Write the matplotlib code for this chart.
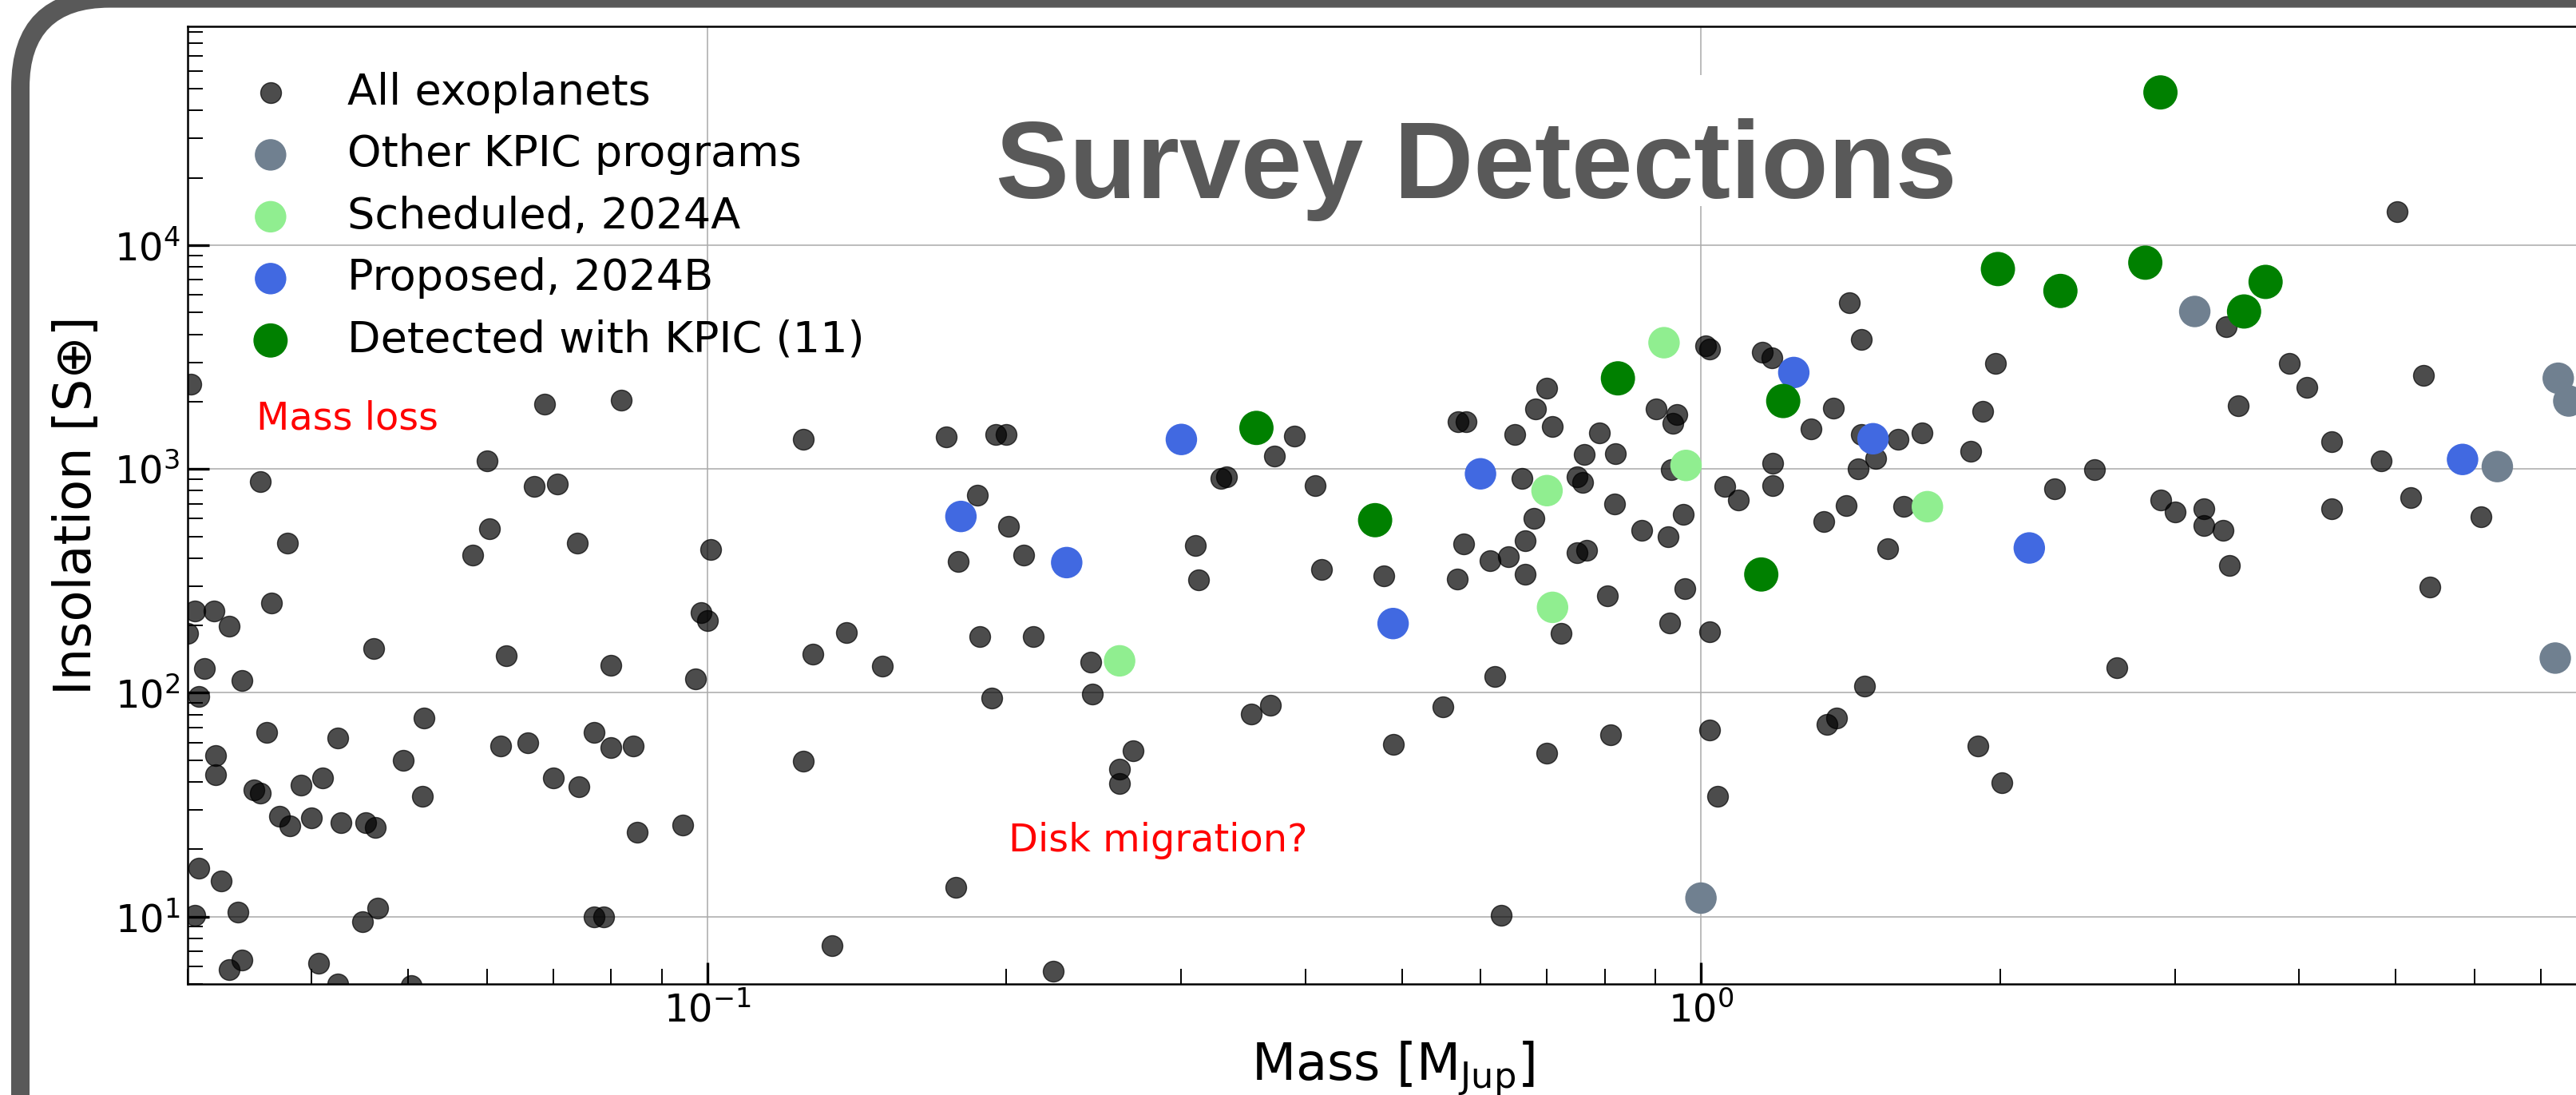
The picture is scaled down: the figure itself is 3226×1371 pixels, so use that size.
import matplotlib
matplotlib.use("Agg")
import matplotlib.pyplot as plt
from matplotlib.patches import FancyBboxPatch, Rectangle

# ── data (mass in M_Jup, insolation in S_earth) ──────────────
all_mass = [
    0.0302, 0.0686, 0.0819, 0.0600, 0.0355, 0.0670, 0.0706, 0.0378, 0.0604, 0.0581,
    0.0740, 0.0305, 0.0319, 0.0330, 0.0364, 0.0300, 0.0462, 0.0628, 0.0800, 0.0312,
    0.0340, 0.0308, 0.0519, 0.0360, 0.0425, 0.0620, 0.0660, 0.0770, 0.0800, 0.0843,
    0.0320, 0.0320, 0.0494, 0.0350, 0.0355, 0.0390, 0.0410, 0.0517, 0.0700, 0.0743,
    0.0371, 0.0380, 0.0400, 0.0428, 0.0453, 0.0463, 0.0850, 0.0944, 0.0308, 0.0324,
    0.0305, 0.0337, 0.0450, 0.0466, 0.0770, 0.0787, 0.0340, 0.0330, 0.0406, 0.0425,
    0.0504, 0.1336, 0.1008, 0.0986, 0.1000, 0.1277, 0.1380, 0.1500, 0.0973, 0.1250,
    0.1250, 0.1740, 0.1950, 0.2000, 0.1870, 0.2010, 0.1790, 0.2080, 0.1880, 0.2130,
    0.2430, 0.1935, 0.2440, 0.2685, 0.2600, 0.2600, 0.1780, 0.2230, 0.3720, 0.3900,
    0.3290, 0.3330, 0.4090, 0.3100, 0.3120, 0.4150, 0.4800, 0.5770, 0.5690, 0.5700,
    0.5800, 0.6130, 0.6400, 0.6660, 0.6660, 0.6500, 0.6610, 0.6790, 0.6810, 0.7000,
    0.7080, 0.7230, 0.6200, 0.3530, 0.3690, 0.5500, 0.4900, 0.7000, 0.8110, 0.6300,
    0.7510, 0.7600, 0.7630, 0.7910, 0.8200, 0.8190, 0.8710, 0.7500, 0.7680, 0.8050,
    0.9020, 0.9260, 0.9300, 1.41, 1.45, 1.98, 1.92, 1.87, 1.01, 1.02,
    1.153, 1.179, 1.36, 1.29, 1.45, 1.58, 1.67, 1.44, 1.50, 1.18,
    1.18, 0.934, 1.057, 1.09, 1.40, 1.33, 1.60, 1.54, 0.96, 0.963,
    1.02, 1.46, 1.34, 1.37, 1.02, 1.90, 0.946, 0.937, 1.04, 2.01,
    5.02, 3.38, 3.91, 4.07, 3.47, 5.33, 4.31, 4.84, 2.49, 2.27,
    2.90, 3.00, 3.21, 3.21, 3.35, 3.40, 4.31, 5.18, 6.10, 5.41,
    2.62,
]
all_insol = [
    2400, 1950, 2030, 1090, 877, 838, 855, 466, 540, 411,
    466, 233, 233, 198, 253, 185, 158, 146, 133, 128,
    114, 96, 77.4, 66.8, 62.6, 57.7, 59.6, 66.8, 56.9, 57.7,
    52.6, 43.0, 50.0, 36.7, 35.5, 38.6, 41.8, 34.4, 41.8, 38.2,
    28.1, 25.4, 27.7, 26.4, 26.4, 25.1, 23.9, 25.6, 16.5, 14.4,
    10.1, 10.5, 9.5, 10.9, 10.0, 10.0, 6.4, 5.8, 6.2, 5.0,
    4.9, 7.4, 438, 228, 210, 149, 186, 132, 115, 49.7,
    1356, 1390, 1430, 1430, 766, 555, 386, 413, 179, 179,
    137, 94.6, 98.6, 55.3, 45.6, 39.2, 13.5, 5.7, 1143, 1407,
    906, 920, 841, 456, 321, 356, 332, 463, 322, 1625,
    1625, 388, 407, 478, 338, 1428, 906, 601, 1853, 2296,
    1545, 184, 118, 80.2, 87.7, 86.7, 58.7, 53.7, 65.2, 10.1,
    925, 873, 1161, 1449, 1175, 698, 531, 422, 433, 272,
    1853, 498, 205, 5545, 3800, 2976, 1813, 1199, 3550, 3450,
    3334, 3135, 1877, 1515, 1425, 1360, 1449, 1005, 1114, 1064,
    841, 991, 839, 729, 689, 581, 679, 440, 626, 293,
    188, 107, 72.2, 77.4, 68.2, 57.8, 1750, 1600, 34.6, 39.6,
    14100, 4330, 2960, 2315, 1919, 2630, 1328, 1089, 991, 814,
    729, 641, 662, 557, 531, 371, 662, 746, 612, 297,
    129,
]

other_mass = [1.00, 3.14, 6.33, 7.29, 7.47, 7.24]
other_insol = [12.1, 5060, 1026, 2546, 2014, 143]

sched_mass = [0.260, 0.700, 0.709, 0.918, 0.966, 1.69]
sched_insol = [139, 801, 241, 3670, 1038, 679]

prop_mass = [0.180, 0.230, 0.300, 0.490, 0.600, 1.24, 1.49, 2.14, 5.84]
prop_insol = [614, 382, 1356, 204, 952, 2700, 1366, 444, 1104]

det_mass = [0.357, 0.470, 0.825, 1.21, 1.15, 1.99, 2.30, 2.80, 2.90, 3.70, 3.52]
det_insol = [1527, 591, 2543, 2014, 338, 7830, 6250, 8360, 48200, 6860, 5060]

W, H, DPI = 3226, 1371, 100
FRAME_GREY = "#595959"

fig = plt.figure(figsize=(W / DPI, H / DPI), dpi=DPI, facecolor="white")

# ── slide frame behind everything (pixel coords) ─────────────
bg = fig.add_axes([0, 0, 1, 1], zorder=-1)
bg.set_xlim(0, W)
bg.set_ylim(H, 0)
bg.axis("off")
bg.add_patch(FancyBboxPatch((14, -13.4), 3600, 1800,
                            boxstyle="round,pad=0,rounding_size=123",
                            fc=FRAME_GREY, ec="none"))
bg.add_patch(FancyBboxPatch((37, 9.6), 3600, 1800,
                            boxstyle="round,pad=0,rounding_size=100",
                            fc="white", ec="none"))

# ── main axes (right edge runs past the cropped image) ───────
left_px, right_px, top_px, bottom_px = 235, 3254, 32.5, 1232
ax = fig.add_axes([left_px / W, 1 - bottom_px / H,
                   (right_px - left_px) / W, (bottom_px - top_px) / H])
ax.set_xscale("log")
ax.set_yscale("log")

ax.scatter(all_mass, all_insol, s=350, c="k", alpha=0.7, label="All exoplanets", zorder=3)
ax.scatter(other_mass, other_insol, s=806, c="slategray", edgecolors="none",
           label="Other KPIC programs", zorder=4)
ax.scatter(sched_mass, sched_insol, s=806, c="lightgreen", edgecolors="none",
           label="Scheduled, 2024A", zorder=4)
ax.scatter(prop_mass, prop_insol, s=806, c="royalblue", edgecolors="none",
           label="Proposed, 2024B", zorder=4)
ax.scatter(det_mass, det_insol, s=955, c="green", edgecolors="none",
           label="Detected with KPIC (11)", zorder=4)

ax.set_xlim(0.030, 8.0)
ax.set_ylim(5.0, 9.55e4)

ax.grid(which="major", color="#aaaaaa", linewidth=1.1, zorder=0)
ax.set_axisbelow(True)

ax.tick_params(which="both", direction="in", labelsize=34.5, pad=7)
ax.tick_params(which="major", length=19.5, width=2.4)
ax.tick_params(which="minor", length=13.5, width=1.4)
for sp in ax.spines.values():
    sp.set_linewidth(1.8)

ax.set_xlabel("Mass [M$_{\\mathrm{Jup}}$]", fontsize=46, labelpad=9)
ax.set_ylabel("Insolation [S⊕]", fontsize=46)
ax.yaxis.set_label_coords(-0.036, 0.5)

ax.text(0.0352, 1509, "Mass loss", color="red", fontsize=34.5, ha="left", va="baseline")
ax.text(0.2009, 19.6, "Disk migration?", color="red", fontsize=34.5, ha="left", va="baseline")

leg = ax.legend(loc="upper left", bbox_to_anchor=(263 / W, 1 - 68 / H),
                bbox_transform=fig.transFigure, borderaxespad=0,
                frameon=False, fontsize=39, labelspacing=0.47,
                scatterpoints=1, handletextpad=0.78)

# ── overlay: title on a white box ────────────────────────────
over = fig.add_axes([0, 0, 1, 1], zorder=5)
over.set_xlim(0, W)
over.set_ylim(H, 0)
over.axis("off")
over.add_patch(Rectangle((1225, 94), 1250, 164, fc="white", ec="none"))
over.text(1848.5, 248, "Survey Detections", fontsize=99.4, fontweight="bold",
          family="Liberation Sans", color=FRAME_GREY, ha="center", va="baseline")

fig.savefig("out.png", dpi=DPI, facecolor="white")
